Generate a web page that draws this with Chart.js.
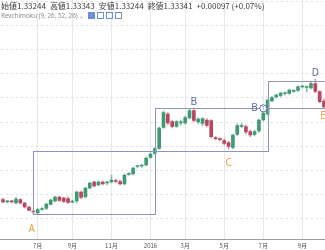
<!DOCTYPE html>
<html>
<head>
<meta charset="utf-8">
<script src="https://cdn.jsdelivr.net/npm/chart.js@4.4.0/dist/chart.umd.min.js"></script>
<style>
  html, body { margin: 0; padding: 0; background: #fff; overflow: hidden; }
  #wrap { position: relative; width: 325px; height: 250px; overflow: hidden; }
  #wrap canvas { position: absolute; left: 0; top: 0; }
  .hdr { position: absolute; left: 1px; top: 0px; font-family: "Noto Sans CJK JP", "Noto Sans", sans-serif;
         font-size: 8px; line-height: 11px; color: #3a3a3a; white-space: nowrap; }
  .hdr span { margin-right: 4px; }
  .ind { position: absolute; left: 1px; top: 12px; font-family: "Noto Sans", sans-serif; font-size: 6.3px;
         line-height: 8px; color: #8a8a8a; white-space: nowrap; }
  .ico { display: inline-block; width: 5px; height: 5px; border: 1px solid #6d8fd8; margin-left: 2px; vertical-align: -1px; }
  .ico.on { background: #6d8fd8; }
</style>
</head>
<body>
<div id="wrap">
  <canvas id="chart" width="327" height="250"></canvas>
  <div class="hdr"><span>始値1.33244</span><span>高値1.33343</span><span>安値1.33244</span><span>終値1.33341</span><span>+0.00097 (+0.07%)</span></div>
  <div class="ind">Revchimoku (9, 26, 52, 26) ⌄ <span class="ico on"></span><span class="ico"></span><span class="ico"></span><span class="ico"></span></div>
</div>
<script>
// weekly bars, first week starts 2015-05-04
const firstWeek = new Date(2015, 4, 4);
const weeks = [];
for (let i = 0; i < 75; i++) {
    const d = new Date(firstWeek.getTime() + i * 7 * 86400000);
    weeks.push(d.getFullYear() + '-' + (d.getMonth() + 1) + '-' + d.getDate());
}

// month ticks on the time axis
const tickIndex = [8, 16, 25, 34, 42, 51, 60, 69];
const tickLabels = ['7月', '9月', '11月', '2016', '3月', '5月', '7月', '9月'];

const opens = [
    1.2405, 1.2382, 1.2388, 1.2370, 1.2405, 1.2370, 1.2330, 1.2290, 1.2270, 1.2305,
    1.2315, 1.2355, 1.2390, 1.2430, 1.2420, 1.2415, 1.2378, 1.2390, 1.2480, 1.2430,
    1.2520, 1.2580, 1.2550, 1.2580, 1.2570, 1.2580, 1.2595, 1.2585, 1.2560, 1.2657,
    1.2660, 1.2735, 1.2740, 1.2750, 1.2825, 1.2865, 1.2915, 1.3125, 1.3260, 1.3183,
    1.3135, 1.3172, 1.3170, 1.3220, 1.3295, 1.3180, 1.3165, 1.3200, 1.3195, 1.3020,
    1.3010, 1.2995, 1.2973, 1.2925, 1.3055, 1.3137, 1.3133, 1.3083, 1.3055, 1.3090,
    1.3200, 1.3260, 1.3390, 1.3430, 1.3445, 1.3465, 1.3467, 1.3487, 1.3495, 1.3530,
    1.3525, 1.3520, 1.3565, 1.3483, 1.3390
];
const highs = [
    1.2420, 1.2395, 1.2400, 1.2430, 1.2415, 1.2380, 1.2340, 1.2300, 1.2320, 1.2325,
    1.2370, 1.2410, 1.2440, 1.2440, 1.2430, 1.2430, 1.2400, 1.2490, 1.2490, 1.2530,
    1.2580, 1.2590, 1.2595, 1.2590, 1.2590, 1.2650, 1.2610, 1.2600, 1.2660, 1.2675,
    1.2730, 1.2750, 1.2755, 1.2830, 1.2870, 1.2925, 1.3130, 1.3290, 1.3275, 1.3200,
    1.3195, 1.3200, 1.3240, 1.3310, 1.3305, 1.3225, 1.3225, 1.3215, 1.3205, 1.3035,
    1.3025, 1.3010, 1.2990, 1.3060, 1.3160, 1.3165, 1.3150, 1.3100, 1.3100, 1.3210,
    1.3280, 1.3410, 1.3435, 1.3460, 1.3480, 1.3480, 1.3510, 1.3505, 1.3545, 1.3550,
    1.3545, 1.3580, 1.3610, 1.3495, 1.3410
];
const lows = [
    1.2370, 1.2370, 1.2370, 1.2360, 1.2360, 1.2320, 1.2290, 1.2260, 1.2255, 1.2295,
    1.2305, 1.2350, 1.2380, 1.2385, 1.2375, 1.2365, 1.2370, 1.2370, 1.2410, 1.2420,
    1.2510, 1.2530, 1.2540, 1.2550, 1.2550, 1.2570, 1.2570, 1.2550, 1.2550, 1.2645,
    1.2650, 1.2720, 1.2725, 1.2740, 1.2815, 1.2855, 1.2905, 1.3115, 1.3150, 1.3120,
    1.3125, 1.3150, 1.3155, 1.3210, 1.3180, 1.3165, 1.3140, 1.3130, 1.3020, 1.3000,
    1.2990, 1.2950, 1.2910, 1.2910, 1.3045, 1.3120, 1.3060, 1.3030, 1.3040, 1.3075,
    1.3190, 1.3245, 1.3380, 1.3420, 1.3430, 1.3450, 1.3455, 1.3475, 1.3485, 1.3520,
    1.3480, 1.3510, 1.3470, 1.3370, 1.3320
];
const closes = [
    1.2380, 1.2388, 1.2382, 1.2410, 1.2370, 1.2330, 1.2295, 1.2280, 1.2305, 1.2312,
    1.2360, 1.2400, 1.2430, 1.2395, 1.2385, 1.2375, 1.2385, 1.2480, 1.2425, 1.2520,
    1.2570, 1.2540, 1.2580, 1.2560, 1.2575, 1.2600, 1.2585, 1.2560, 1.2650, 1.2662,
    1.2720, 1.2740, 1.2745, 1.2820, 1.2860, 1.2915, 1.3120, 1.3275, 1.3170, 1.3135,
    1.3183, 1.3177, 1.3225, 1.3295, 1.3195, 1.3210, 1.3215, 1.3145, 1.3033, 1.3014,
    1.3004, 1.2967, 1.2935, 1.3050, 1.3145, 1.3143, 1.3080, 1.3050, 1.3085, 1.3200,
    1.3270, 1.3400, 1.3425, 1.3450, 1.3470, 1.3470, 1.3500, 1.3493, 1.3532, 1.3535,
    1.3530, 1.3565, 1.3485, 1.3383, 1.3330
];

// horizontal grid levels
const gridLevels = [1.2210, 1.2452, 1.2694, 1.2936, 1.3178, 1.3420, 1.3662, 1.3904, 1.4146, 1.4388];

// wave boxes (bar index range, price range)
const boxStart = [7, 35, 61];
const boxEnd = [35, 61, 78];
const boxLow = [1.2260, 1.2890, 1.3320];
const boxHigh = [1.2890, 1.3320, 1.3593];

// wave point labels
const markText = ['A', 'B', 'C', 'D', 'B', 'E'];
const markIndex = [6.6, 44, 52, 72, 58, 73.8];
const markPrice = [1.2110, 1.3383, 1.2767, 1.3665, 1.3317, 1.3240];
const markColor = ['#e9a23b', '#5b6aa6', '#e9a23b', '#5b6aa6', '#5b6aa6', '#e9a23b'];

const upColor = '#3f9a74';
const downColor = '#b9475f';
const candleColors = opens.map((o, i) => closes[i] >= o ? upColor : downColor);
const wickColors = opens.map((o, i) => closes[i] >= o ? 'rgba(63,154,116,0.6)' : 'rgba(185,71,95,0.55)');

const boxesPlugin = {
    id: 'waveBoxes',
    afterDatasetsDraw(chart) {
        const ctx = chart.ctx;
        const x = chart.scales.x;
        const y = chart.scales.y;
        ctx.save();
        ctx.strokeStyle = '#8e94b8';
        ctx.lineWidth = 1;
        boxStart.forEach((s, i) => {
            const x0 = Math.round(x.getPixelForValue(s)) + 0.5;
            const x1 = Math.round(x.getPixelForValue(boxEnd[i])) + 0.5;
            const y0 = Math.round(y.getPixelForValue(boxHigh[i])) + 0.5;
            const y1 = Math.round(y.getPixelForValue(boxLow[i])) + 0.5;
            ctx.strokeRect(x0, y0, x1 - x0, y1 - y0);
        });
        ctx.font = '10px "Noto Sans", sans-serif';
        ctx.textAlign = 'center';
        ctx.textBaseline = 'middle';
        markText.forEach((t, i) => {
            const px = x.getPixelForValue(markIndex[i]);
            const py = y.getPixelForValue(markPrice[i]);
            ctx.fillStyle = markColor[i];
            ctx.fillText(t, px, py);
        });
        // small circled marker next to the second B
        const cx = x.getPixelForValue(60);
        const cy = y.getPixelForValue(1.3317);
        ctx.beginPath();
        ctx.arc(cx, cy, 3.5, 0, Math.PI * 2);
        ctx.fillStyle = '#ffffff';
        ctx.fill();
        ctx.strokeStyle = '#5b6aa6';
        ctx.stroke();
        ctx.fillStyle = '#5b6aa6';
        ctx.font = '5px "Noto Sans", sans-serif';
        ctx.fillText('1', cx, cy + 0.5);
        ctx.restore();
    }
};

new Chart(document.getElementById('chart'), {
    type: 'bar',
    data: {
        labels: weeks,
        datasets: [
            {
                label: 'wick',
                data: lows.map((l, i) => [l, highs[i]]),
                backgroundColor: wickColors,
                barThickness: 1,
                grouped: false,
                order: 2
            },
            {
                label: 'body',
                data: opens.map((o, i) => [o, closes[i]]),
                backgroundColor: candleColors,
                barThickness: 3,
                minBarLength: 1,
                grouped: false,
                order: 1
            }
        ]
    },
    options: {
        responsive: false,
        animation: false,
        devicePixelRatio: 1,
        layout: { padding: 0 },
        plugins: {
            legend: { display: false },
            tooltip: { enabled: false }
        },
        scales: {
            x: {
                offset: true,
                afterFit: (scale) => { scale.height = 11; },
                grid: {
                    offset: false,
                    drawTicks: false,
                    color: (c) => tickIndex.includes(c.index) ? '#e6e7ea' : 'rgba(0,0,0,0)'
                },
                border: { display: true, color: '#9a9da6' },
                ticks: {
                    autoSkip: false,
                    maxRotation: 0,
                    padding: 3,
                    color: '#555',
                    font: { size: 6, family: '"Noto Sans CJK JP", "Noto Sans", sans-serif' },
                    callback: (v, i) => {
                        const k = tickIndex.indexOf(i);
                        return k >= 0 ? tickLabels[k] : '';
                    }
                }
            },
            y: {
                position: 'right',
                min: 1.201,
                max: 1.44,
                afterFit: (scale) => { scale.width = 0; },
                afterBuildTicks: (scale) => { scale.ticks = gridLevels.map(v => ({ value: v })); },
                grid: { color: '#dcdde1', drawTicks: false },
                border: { display: false, dash: [2, 3] },
                ticks: { display: false }
            }
        }
    },
    plugins: [boxesPlugin]
});
</script>
</body>
</html>
